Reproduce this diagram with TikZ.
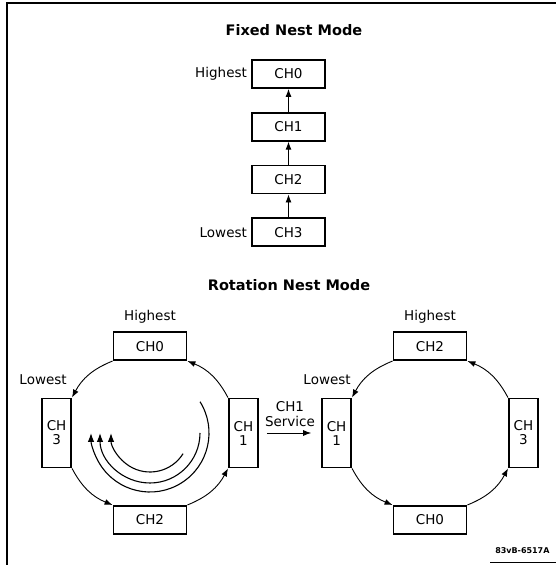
\documentclass[tikz,border=0pt]{standalone}
\usepackage{fontspec}
\setmainfont{DejaVu Sans}
\usetikzlibrary{arrows.meta,positioning,calc}

\begin{document}
\begin{tikzpicture}[x=1pt,y=1pt,
    node distance=23pt,
    chbox/.style={rectangle,draw,line width=1.8pt,minimum width=73pt,minimum height=28pt,
      inner sep=0pt,font=\fontsize{13.5}{15}\selectfont},
    chvbox/.style={rectangle,draw,line width=1.8pt,minimum width=29pt,minimum height=69pt,
      inner sep=0pt,align=center,font=\fontsize{13.5}{14}\selectfont},
    lbl/.style={inner sep=2pt,font=\fontsize{13.5}{15}\selectfont},
    ttl/.style={font=\bfseries\fontsize{14.5}{17}\selectfont},
    arrow/.style={-{Latex[length=8pt,width=6pt]},line width=0.9pt},
    ring/.style={arrow,bend right=20},
    spin/.style={-{Latex[length=9pt,width=6.5pt]},line width=1.1pt}
  ]
    \useasboundingbox (0,0) rectangle (556,565);
    \draw[line width=1.4pt] (7,0) -- (7,562) -- (556,562);
    \draw[line width=1pt] (490,2) -- (556,2);

    \node[ttl] (fixedttl) at (294,535) {Fixed Nest Mode};
    \node[chbox] (f0) at (288.5,491) {CH0};
    \node[chbox,below=of f0] (f1) {CH1};
    \node[chbox,below=of f1] (f2) {CH2};
    \node[chbox,below=of f2] (f3) {CH3};
    \node[lbl,left=2pt of f0] (fhigh) {Highest};
    \node[lbl,left=2pt of f3] (flow) {Lowest};
    \draw[arrow] (f1) -- (f0);
    \draw[arrow] (f2) -- (f1);
    \draw[arrow] (f3) -- (f2);

    \node[ttl] (rotttl) at (289,280) {Rotation Nest Mode};

    \coordinate (lc) at (150,132);
    \node[chbox,above=72pt of lc] (lch0) {CH0};
    \node[chvbox,right=78pt of lc] (lch1) {CH\\1};
    \node[chbox,below=72pt of lc] (lch2) {CH2};
    \node[chvbox,left=78pt of lc] (lch3) {CH\\3};
    \node[lbl,above=6pt of lch0] (lhigh) {Highest};
    \node[lbl,above=11pt of lch3,xshift=-13.5pt] (llow) {Lowest};
    \draw[ring] (lch0.south west) to (lch3.north east);
    \draw[ring] (lch3.south east) to (lch2.north west);
    \draw[ring] (lch2.north east) to (lch1.south west);
    \draw[ring] (lch1.north west) to (lch0.south east);
    \draw[spin] ($(lc)+(-32:39)$) arc[start angle=-32,end angle=-180,radius=39];
    \draw[spin] ($(lc)+(0:50)$) arc[start angle=0,end angle=-180,radius=50];
    \draw[spin] ($(lc)+(32:59)$) arc[start angle=32,end angle=-180,radius=59];

    \coordinate (rc) at (430,132);
    \node[chbox,above=72pt of rc] (rch2) {CH2};
    \node[chvbox,right=78pt of rc] (rch3) {CH\\3};
    \node[chbox,below=72pt of rc] (rch0) {CH0};
    \node[chvbox,left=78pt of rc] (rch1) {CH\\1};
    \node[lbl,above=6pt of rch2] (rhigh) {Highest};
    \node[lbl,above=11pt of rch1,xshift=-9.5pt] (rlow) {Lowest};
    \draw[ring] (rch2.south west) to (rch1.north east);
    \draw[ring] (rch1.south east) to (rch0.north west);
    \draw[ring] (rch0.north east) to (rch3.south west);
    \draw[ring] (rch3.north west) to (rch2.south east);

    \draw[arrow,shorten <=8pt,shorten >=10pt] (lch1) -- node[lbl,above=4pt,align=center] {CH1\\Service} (rch1);

    \node[anchor=east,font=\bfseries\fontsize{8}{9}\selectfont] (figid) at (553,14) {83vB-6517A};
  \end{tikzpicture}
\end{document}
